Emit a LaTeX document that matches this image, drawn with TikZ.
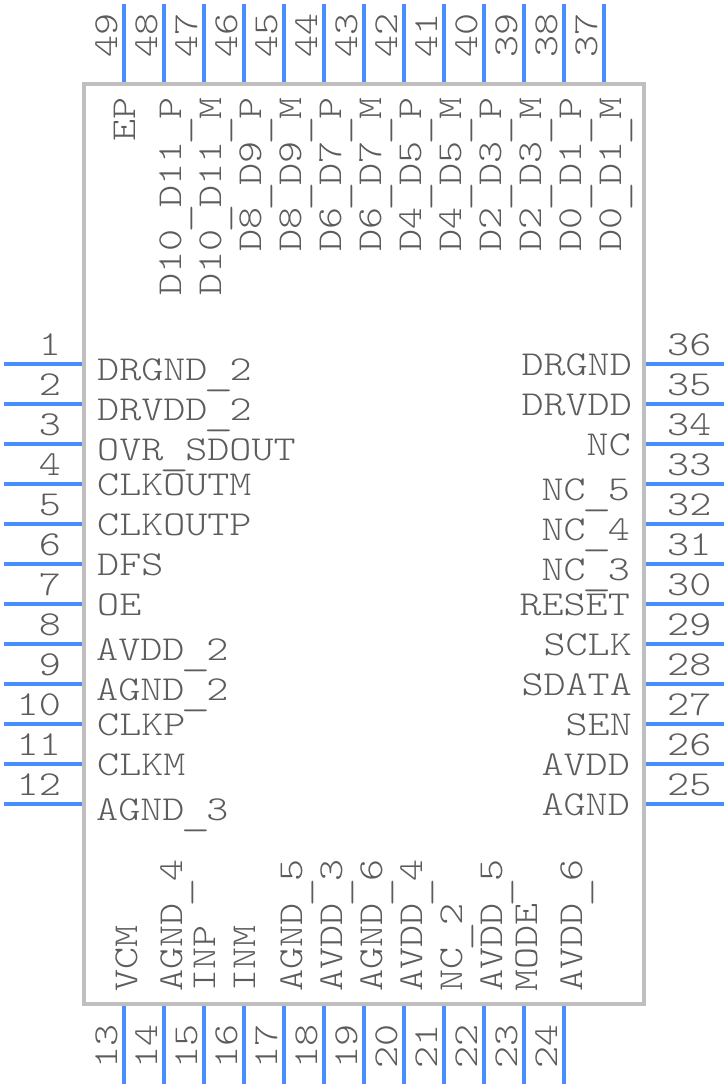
\documentclass[tikz,border=0pt]{standalone}
\usepackage{fontspec}
\newfontfamily\pinfont[FakeStretch=1.2]{Latin Modern Mono Light}
\newcommand{\pinbar}{\makebox[22.05pt][c]{\raisebox{-5pt}{\scalebox{1.35}[1]{\_}}}}
\definecolor{pinblue}{rgb}{0.28, 0.56, 1.0}
\definecolor{bodygrey}{rgb}{0.75, 0.75, 0.75}
\definecolor{textgrey}{rgb}{0.36, 0.36, 0.36}
\tikzset{
	pinline/.style={line width=4pt, pinblue},
	pintext/.style={inner sep=0pt, textgrey, font=\pinfont\fontsize{35}{35}\selectfont},
	westtext/.style={pintext, anchor=base west},
	easttext/.style={pintext, anchor=base east},
	uptext/.style={pintext, rotate=90, anchor=base west},
	downtext/.style={pintext, rotate=90, anchor=base east}
}
\begin{document}
\begin{tikzpicture}[x=1pt, y=-1pt]
	\useasboundingbox (0,0) rectangle (728,1088);
	\coordinate (tl) at (84,84);
	\coordinate (br) at (644,1004);
	\draw[line width=4pt, bodygrey] (tl) rectangle (br);

	% left side
	\coordinate (a1) at (4,364); \coordinate (b1) at (82,364); \draw[pinline] (a1) -- (b1); \node[easttext] (n1) at (61,355) {1}; \node[westtext] (l1) at (97,380) {DRGND\pinbar 2};
	\coordinate (a2) at (4,404); \coordinate (b2) at (82,404); \draw[pinline] (a2) -- (b2); \node[easttext] (n2) at (61,395) {2}; \node[westtext] (l2) at (97,420) {DRVDD\pinbar 2};
	\coordinate (a3) at (4,444); \coordinate (b3) at (82,444); \draw[pinline] (a3) -- (b3); \node[easttext] (n3) at (61,435) {3}; \node[westtext] (l3) at (97,460) {OVR\pinbar SDOUT};
	\coordinate (a4) at (4,484); \coordinate (b4) at (82,484); \draw[pinline] (a4) -- (b4); \node[easttext] (n4) at (61,475) {4}; \node[westtext] (l4) at (97,495) {CLKOUTM};
	\coordinate (a5) at (4,524); \coordinate (b5) at (82,524); \draw[pinline] (a5) -- (b5); \node[easttext] (n5) at (61,515) {5}; \node[westtext] (l5) at (97,535) {CLKOUTP};
	\coordinate (a6) at (4,564); \coordinate (b6) at (82,564); \draw[pinline] (a6) -- (b6); \node[easttext] (n6) at (61,555) {6}; \node[westtext] (l6) at (97,575) {DFS};
	\coordinate (a7) at (4,604); \coordinate (b7) at (82,604); \draw[pinline] (a7) -- (b7); \node[easttext] (n7) at (61,595) {7}; \node[westtext] (l7) at (97,615) {OE};
	\coordinate (a8) at (4,644); \coordinate (b8) at (82,644); \draw[pinline] (a8) -- (b8); \node[easttext] (n8) at (61,635) {8}; \node[westtext] (l8) at (96,660) {AVDD\pinbar 2};
	\coordinate (a9) at (4,684); \coordinate (b9) at (82,684); \draw[pinline] (a9) -- (b9); \node[easttext] (n9) at (61,675) {9}; \node[westtext] (l9) at (96,700) {AGND\pinbar 2};
	\coordinate (a10) at (4,724); \coordinate (b10) at (82,724); \draw[pinline] (a10) -- (b10); \node[easttext] (n10) at (61,715) {10}; \node[westtext] (l10) at (97,735) {CLKP};
	\coordinate (a11) at (4,764); \coordinate (b11) at (82,764); \draw[pinline] (a11) -- (b11); \node[easttext] (n11) at (61,755) {11}; \node[westtext] (l11) at (97,775) {CLKM};
	\coordinate (a12) at (4,804); \coordinate (b12) at (82,804); \draw[pinline] (a12) -- (b12); \node[easttext] (n12) at (61,795) {12}; \node[westtext] (l12) at (96,820) {AGND\pinbar 3};

	% bottom side
	\coordinate (a13) at (124,1006); \coordinate (b13) at (124,1084); \draw[pinline] (a13) -- (b13); \node[uptext] (n13) at (117,1069) {13}; \node[uptext] (l13) at (137,992) {VCM};
	\coordinate (a14) at (164,1006); \coordinate (b14) at (164,1084); \draw[pinline] (a14) -- (b14); \node[uptext] (n14) at (157,1069) {14}; \node[uptext] (l14) at (182,992) {AGND\pinbar 4};
	\coordinate (a15) at (204,1006); \coordinate (b15) at (204,1084); \draw[pinline] (a15) -- (b15); \node[uptext] (n15) at (197,1069) {15}; \node[uptext] (l15) at (215,992) {INP};
	\coordinate (a16) at (244,1006); \coordinate (b16) at (244,1084); \draw[pinline] (a16) -- (b16); \node[uptext] (n16) at (237,1069) {16}; \node[uptext] (l16) at (255,992) {INM};
	\coordinate (a17) at (284,1006); \coordinate (b17) at (284,1084); \draw[pinline] (a17) -- (b17); \node[uptext] (n17) at (277,1069) {17}; \node[uptext] (l17) at (302,992) {AGND\pinbar 5};
	\coordinate (a18) at (324,1006); \coordinate (b18) at (324,1084); \draw[pinline] (a18) -- (b18); \node[uptext] (n18) at (317,1069) {18}; \node[uptext] (l18) at (342,992) {AVDD\pinbar 3};
	\coordinate (a19) at (364,1006); \coordinate (b19) at (364,1084); \draw[pinline] (a19) -- (b19); \node[uptext] (n19) at (357,1069) {19}; \node[uptext] (l19) at (382,992) {AGND\pinbar 6};
	\coordinate (a20) at (404,1006); \coordinate (b20) at (404,1084); \draw[pinline] (a20) -- (b20); \node[uptext] (n20) at (397,1069) {20}; \node[uptext] (l20) at (422,992) {AVDD\pinbar 4};
	\coordinate (a21) at (444,1006); \coordinate (b21) at (444,1084); \draw[pinline] (a21) -- (b21); \node[uptext] (n21) at (437,1069) {21}; \node[uptext] (l21) at (462,992) {NC\pinbar 2};
	\coordinate (a22) at (484,1006); \coordinate (b22) at (484,1084); \draw[pinline] (a22) -- (b22); \node[uptext] (n22) at (477,1069) {22}; \node[uptext] (l22) at (502,992) {AVDD\pinbar 5};
	\coordinate (a23) at (524,1006); \coordinate (b23) at (524,1084); \draw[pinline] (a23) -- (b23); \node[uptext] (n23) at (517,1069) {23}; \node[uptext] (l23) at (537,992) {MODE};
	\coordinate (a24) at (564,1006); \coordinate (b24) at (564,1084); \draw[pinline] (a24) -- (b24); \node[uptext] (n24) at (557,1069) {24}; \node[uptext] (l24) at (582,992) {AVDD\pinbar 6};

	% right side
	\coordinate (a25) at (646,804); \coordinate (b25) at (724,804); \draw[pinline] (a25) -- (b25); \node[westtext] (n25) at (667,795) {25}; \node[easttext] (l25) at (630,815) {AGND};
	\coordinate (a26) at (646,764); \coordinate (b26) at (724,764); \draw[pinline] (a26) -- (b26); \node[westtext] (n26) at (667,755) {26}; \node[easttext] (l26) at (630,775) {AVDD};
	\coordinate (a27) at (646,724); \coordinate (b27) at (724,724); \draw[pinline] (a27) -- (b27); \node[westtext] (n27) at (667,715) {27}; \node[easttext] (l27) at (632,735) {SEN};
	\coordinate (a28) at (646,684); \coordinate (b28) at (724,684); \draw[pinline] (a28) -- (b28); \node[westtext] (n28) at (667,675) {28}; \node[easttext] (l28) at (632,695) {SDATA};
	\coordinate (a29) at (646,644); \coordinate (b29) at (724,644); \draw[pinline] (a29) -- (b29); \node[westtext] (n29) at (667,635) {29}; \node[easttext] (l29) at (632,655) {SCLK};
	\coordinate (a30) at (646,604); \coordinate (b30) at (724,604); \draw[pinline] (a30) -- (b30); \node[westtext] (n30) at (667,595) {30}; \node[easttext] (l30) at (630,615) {RESET};
	\coordinate (a31) at (646,564); \coordinate (b31) at (724,564); \draw[pinline] (a31) -- (b31); \node[westtext] (n31) at (667,555) {31}; \node[easttext] (l31) at (630,580) {NC\pinbar 3};
	\coordinate (a32) at (646,524); \coordinate (b32) at (724,524); \draw[pinline] (a32) -- (b32); \node[westtext] (n32) at (667,515) {32}; \node[easttext] (l32) at (630,540) {NC\pinbar 4};
	\coordinate (a33) at (646,484); \coordinate (b33) at (724,484); \draw[pinline] (a33) -- (b33); \node[westtext] (n33) at (667,475) {33}; \node[easttext] (l33) at (630,500) {NC\pinbar 5};
	\coordinate (a34) at (646,444); \coordinate (b34) at (724,444); \draw[pinline] (a34) -- (b34); \node[westtext] (n34) at (667,435) {34}; \node[easttext] (l34) at (631,455) {NC};
	\coordinate (a35) at (646,404); \coordinate (b35) at (724,404); \draw[pinline] (a35) -- (b35); \node[westtext] (n35) at (667,395) {35}; \node[easttext] (l35) at (632,415) {DRVDD};
	\coordinate (a36) at (646,364); \coordinate (b36) at (724,364); \draw[pinline] (a36) -- (b36); \node[westtext] (n36) at (667,355) {36}; \node[easttext] (l36) at (632,375) {DRGND};

	% top side
	\coordinate (a37) at (604,4); \coordinate (b37) at (604,82); \draw[pinline] (a37) -- (b37); \node[uptext] (n37) at (597,58) {37}; \node[downtext] (l37) at (621,97) {D0\pinbar D1\pinbar M};
	\coordinate (a38) at (564,4); \coordinate (b38) at (564,82); \draw[pinline] (a38) -- (b38); \node[uptext] (n38) at (557,58) {38}; \node[downtext] (l38) at (581,97) {D0\pinbar D1\pinbar P};
	\coordinate (a39) at (524,4); \coordinate (b39) at (524,82); \draw[pinline] (a39) -- (b39); \node[uptext] (n39) at (517,58) {39}; \node[downtext] (l39) at (541,97) {D2\pinbar D3\pinbar M};
	\coordinate (a40) at (484,4); \coordinate (b40) at (484,82); \draw[pinline] (a40) -- (b40); \node[uptext] (n40) at (477,58) {40}; \node[downtext] (l40) at (501,97) {D2\pinbar D3\pinbar P};
	\coordinate (a41) at (444,4); \coordinate (b41) at (444,82); \draw[pinline] (a41) -- (b41); \node[uptext] (n41) at (437,58) {41}; \node[downtext] (l41) at (461,97) {D4\pinbar D5\pinbar M};
	\coordinate (a42) at (404,4); \coordinate (b42) at (404,82); \draw[pinline] (a42) -- (b42); \node[uptext] (n42) at (397,58) {42}; \node[downtext] (l42) at (421,97) {D4\pinbar D5\pinbar P};
	\coordinate (a43) at (364,4); \coordinate (b43) at (364,82); \draw[pinline] (a43) -- (b43); \node[uptext] (n43) at (357,58) {43}; \node[downtext] (l43) at (381,97) {D6\pinbar D7\pinbar M};
	\coordinate (a44) at (324,4); \coordinate (b44) at (324,82); \draw[pinline] (a44) -- (b44); \node[uptext] (n44) at (317,58) {44}; \node[downtext] (l44) at (341,97) {D6\pinbar D7\pinbar P};
	\coordinate (a45) at (284,4); \coordinate (b45) at (284,82); \draw[pinline] (a45) -- (b45); \node[uptext] (n45) at (277,58) {45}; \node[downtext] (l45) at (301,97) {D8\pinbar D9\pinbar M};
	\coordinate (a46) at (244,4); \coordinate (b46) at (244,82); \draw[pinline] (a46) -- (b46); \node[uptext] (n46) at (237,58) {46}; \node[downtext] (l46) at (261,97) {D8\pinbar D9\pinbar P};
	\coordinate (a47) at (204,4); \coordinate (b47) at (204,82); \draw[pinline] (a47) -- (b47); \node[uptext] (n47) at (197,58) {47}; \node[downtext] (l47) at (221,97) {D10\pinbar D11\pinbar M};
	\coordinate (a48) at (164,4); \coordinate (b48) at (164,82); \draw[pinline] (a48) -- (b48); \node[uptext] (n48) at (157,58) {48}; \node[downtext] (l48) at (181,97) {D10\pinbar D11\pinbar P};
	\coordinate (a49) at (124,4); \coordinate (b49) at (124,82); \draw[pinline] (a49) -- (b49); \node[uptext] (n49) at (117,58) {49}; \node[downtext] (l49) at (135,97) {EP};
\end{tikzpicture}
\end{document}
